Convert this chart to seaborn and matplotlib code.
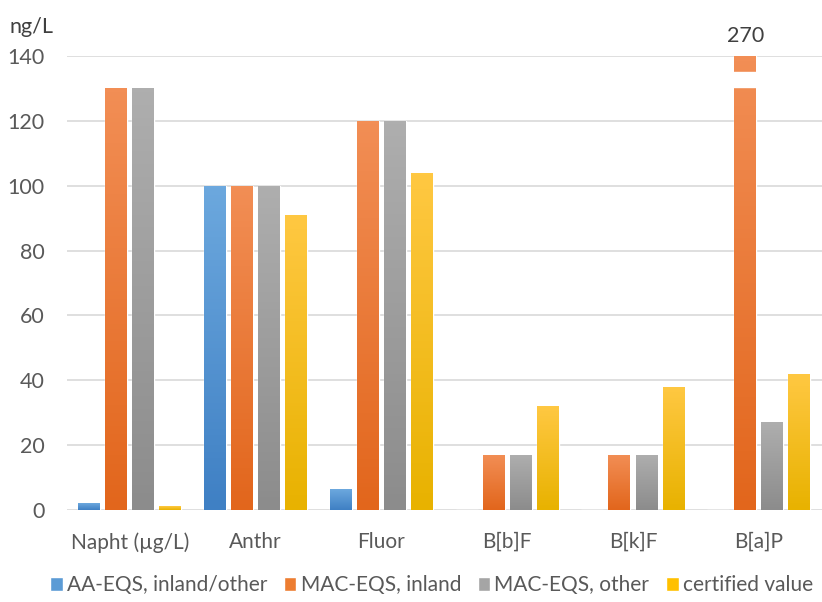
import numpy as np
import pandas as pd
import seaborn as sns

import matplotlib
matplotlib.use('Agg')
import matplotlib.pyplot as plt
from matplotlib.colors import LinearSegmentedColormap

# chart data
compounds = ["Napht (\u00b5g/L)", "Anthr", "Fluor", "B[b]F", "B[k]F", "B[a]P"]
series = ["AA-EQS, inland/other", "MAC-EQS, inland", "MAC-EQS, other", "certified value"]
aa_eqs = [2, 100, 6.3, 0, 0, 0]
mac_inland = [130, 100, 120, 17, 17, 270]
mac_other = [130, 100, 120, 17, 17, 27]
certified = [1.2, 91, 104, 32, 38, 42]

ymax = 140
break_lo, break_hi = 130.5, 135

base_colors = ["#5B9BD5", "#ED7D31", "#A5A5A5", "#FFC000"]
top_colors = ["#6CA8DE", "#F28E55", "#AEAEAE", "#FFC842"]
bottom_colors = ["#3F80C4", "#E2661C", "#8C8C8C", "#E8B200"]

df = pd.DataFrame({
    "compound": compounds * 4,
    "series": [s for s in series for _ in compounds],
    "value": aa_eqs + mac_inland + mac_other + certified,
})

sns.set_style("white")
plt.rcParams['font.family'] = ['Lato', 'DejaVu Sans']

fig = plt.figure(figsize=(8.22, 6.02), dpi=100)
ax = fig.add_axes([0.0815, 0.153, 0.918, 0.754])

sns.barplot(data=df, x="compound", y="value", hue="series", palette=base_colors,
            width=0.86, gap=0.19, ax=ax, legend=True, saturation=1)

ax.set_ylim(0, ymax)
ax.set_xlim(-0.5, len(compounds) - 0.5)
ax.set_yticks(np.arange(0, ymax + 1, 20))
ax.yaxis.grid(True, color="#D9D9D9", linewidth=1.2)
ax.set_axisbelow(True)
for s in ax.spines.values():
    s.set_visible(False)
ax.set_xlabel("")
ax.set_ylabel("")
ax.tick_params(axis="both", length=0, labelcolor="#595959")
ax.tick_params(axis="x", pad=16, labelsize=15)
ax.tick_params(axis="y", pad=16, labelsize=15.5)

# gradient fill for each bar
for i, cont in enumerate(ax.containers):
    cmap = LinearSegmentedColormap.from_list("g%d" % i, [bottom_colors[i], top_colors[i]])
    for p in cont.patches:
        h = p.get_height()
        if h <= 0:
            continue
        x0 = p.get_x()
        w = p.get_width()
        top = min(h, ymax)
        im = ax.imshow(np.linspace(0, 1, 100).reshape(-1, 1), cmap=cmap, aspect="auto",
                       origin="lower", extent=[x0, x0 + w, 0, top], zorder=p.get_zorder())
        im.set_clip_path(p)
        p.set_facecolor("none")
        if h > ymax:
            ax.fill_between([x0 - 0.01, x0 + w + 0.01], break_lo, break_hi,
                            color="white", zorder=p.get_zorder() + 1)
            ax.text(x0 + w / 2, ymax + 3.2, f"{h:g}", ha="center", va="bottom",
                    fontsize=15.5, color="#404040", clip_on=False)

ax.set_xlim(-0.5, len(compounds) - 0.5)
ax.set_ylim(0, ymax)

fig.text(0.012, 0.955, "ng/L", fontsize=15.5, color="#404040", va="center")

handles, labels = ax.get_legend_handles_labels()
ax.legend_.remove()
fig.legend(handles, labels, loc="lower center", bbox_to_anchor=(0.525, -0.02), ncol=4,
           frameon=False, handlelength=0.6, handleheight=0.6, handletextpad=0.2,
           columnspacing=0.8, fontsize=15, labelcolor="#595959")

fig.savefig("out.png", dpi=100)
